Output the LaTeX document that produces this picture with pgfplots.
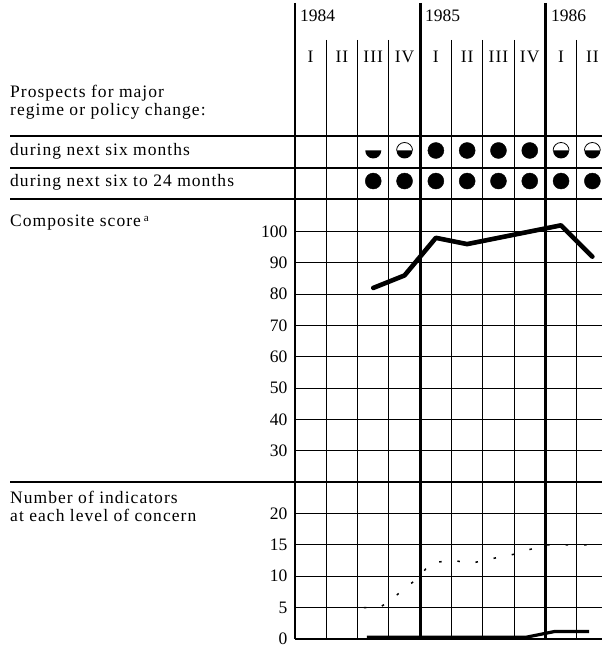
\documentclass[border=0pt]{standalone}
\usepackage{fontspec}
\setmainfont{Liberation Serif}
\newfontfamily\spaced[LetterSpace=6]{Liberation Serif}
\usepackage{pgfplots}
\pgfplotsset{compat=1.18}

\pgfdeclareplotmark{halfb}{%
  \pgfpathmoveto{\pgfqpoint{-\pgfplotmarksize}{0pt}}%
  \pgfpatharc{180}{360}{\pgfplotmarksize}%
  \pgfpathclose
  \pgfusepathqfill}
\pgfdeclareplotmark{halfbring}{%
  \pgfpathmoveto{\pgfqpoint{-\pgfplotmarksize}{0pt}}%
  \pgfpatharc{180}{360}{\pgfplotmarksize}%
  \pgfpathclose
  \pgfusepathqfill
  \pgfsetlinewidth{0.8pt}%
  \pgfpathmoveto{\pgfqpoint{\pgfplotmarksize}{0pt}}%
  \pgfpatharc{0}{180}{\pgfplotmarksize}%
  \pgfusepathqstroke}

\newcommand{\lbl}{\fontsize{17.5}{20}\selectfont}

\begin{document}
\begin{tikzpicture}[x=1pt,y=1pt]
\useasboundingbox (0,0) rectangle (602,648);

% ---------- header and structure lines ----------
\foreach \c in {0,4,8} {
  \draw[line width=2.6pt] ({295+31.3*\c},645) -- ({295+31.3*\c},9);
}
\foreach \c in {1,2,3,5,6,7,9} {
  \draw[line width=1.1pt] ({295+31.3*\c},608) -- ({295+31.3*\c},9);
}
\draw[line width=1.1pt] (10,512) -- (602,512);
\draw[line width=1.1pt] (10,480) -- (602,480);
\draw[line width=2.6pt] (10,449) -- (602,449);
\draw[line width=2.6pt] (10,166) -- (602,166);

% year labels
\node[anchor=base west, inner sep=0pt] at (300,626) {\lbl 1984};
\node[anchor=base west, inner sep=0pt] at (425,626) {\lbl 1985};
\node[anchor=base west, inner sep=0pt] at (551,626) {\lbl 1986};
% quarter labels
\foreach \c/\q in {0/I,1/II,2/III,3/IV,4/I,5/II,6/III,7/IV,8/I,9/II} {
  \node[anchor=base, inner sep=0pt] at ({295+31.3*(\c+0.5)},585) {\lbl\spaced \q};
}

% left labels
\node[anchor=base west, inner sep=0pt] at (10,550) {\lbl\spaced Prospects for major};
\node[anchor=base west, inner sep=0pt] at (10,532) {\lbl\spaced regime or policy change:};
\node[anchor=base west, inner sep=0pt] at (10,492) {\lbl\spaced during next six months};
\node[anchor=base west, inner sep=0pt] at (10,461) {\lbl\spaced during next six to 24 months};
\node[anchor=base west, inner sep=0pt] at (10,421) {\lbl\spaced Composite score\,\raisebox{5pt}{\fontsize{11}{11}\selectfont a}};
\node[anchor=base west, inner sep=0pt] at (10,144) {\lbl\spaced Number of indicators};
\node[anchor=base west, inner sep=0pt] at (10,126) {\lbl\spaced at each level of concern};

% ---------- prospects rows ----------
\begin{axis}[at={(295pt,449pt)}, anchor=south west, x=31.3pt, y=31.5pt,
  xmin=0, xmax=9.8, ymin=0, ymax=2, hide axis, clip=false]
  % during next six months
  \addplot[only marks, mark=halfb, mark size=8pt, black] coordinates {(2.5,1.54)};
  \addplot[only marks, mark=halfbring, mark size=8pt, black] coordinates {(3.5,1.54)(8.5,1.54)(9.5,1.54)};
  \addplot[only marks, mark=*, mark size=8pt, black] coordinates {(4.5,1.54)(5.5,1.54)(6.5,1.54)(7.5,1.54)};
  % during next six to 24 months
  \addplot[only marks, mark=*, mark size=8pt, black] coordinates {(2.5,0.57)(3.5,0.57)(4.5,0.57)(5.5,0.57)(6.5,0.57)(7.5,0.57)(8.5,0.57)(9.5,0.57)};
\end{axis}

% ---------- composite score ----------
\begin{axis}[at={(295pt,166pt)}, anchor=south west, x=31.3pt, y=3.13pt,
  xmin=0, xmax=9.8, ymin=20, ymax=110,
  axis line style={draw=none}, major tick length=0pt,
  xtick=\empty, ytick={30,40,...,100},
  ymajorgrids, major grid style={line width=1.1pt, black},
  yticklabel style={font=\lbl, xshift=-4pt},
  /pgf/number format/assume math mode=true, clip=false]
  \addplot[line width=4.6pt, black, line join=round, line cap=round] coordinates
    {(2.5,82)(3.5,86)(4.5,98)(5.5,96)(6.5,98)(7.5,100)(8.5,102)(9.5,92)};
\end{axis}

% ---------- number of indicators ----------
\begin{axis}[at={(295pt,9pt)}, anchor=south west, x=31.3pt, y=6.28pt,
  xmin=0, xmax=9.8, ymin=0, ymax=25,
  axis line style={draw=none}, major tick length=0pt,
  xtick=\empty, ytick={0,5,...,20},
  ymajorgrids, major grid style={line width=1.1pt, black},
  yticklabel style={font=\lbl, xshift=-4pt},
  /pgf/number format/assume math mode=true, clip=false]
  \addplot[line width=1.5pt, black, dash pattern=on 2.5pt off 16pt] coordinates
    {(2.2,5)(2.7,5)(3.0,6)(4.0,10)(4.3,12)(5.0,12.6)(5.6,12)(6.0,12.5)(7.0,13.5)(8.0,15)(9.7,15)};
  \addplot[line width=3.2pt, black] coordinates
    {(2.3,0.3)(7.4,0.3)(8.3,1.2)(9.4,1.2)};
\end{axis}
\end{tikzpicture}
\end{document}
